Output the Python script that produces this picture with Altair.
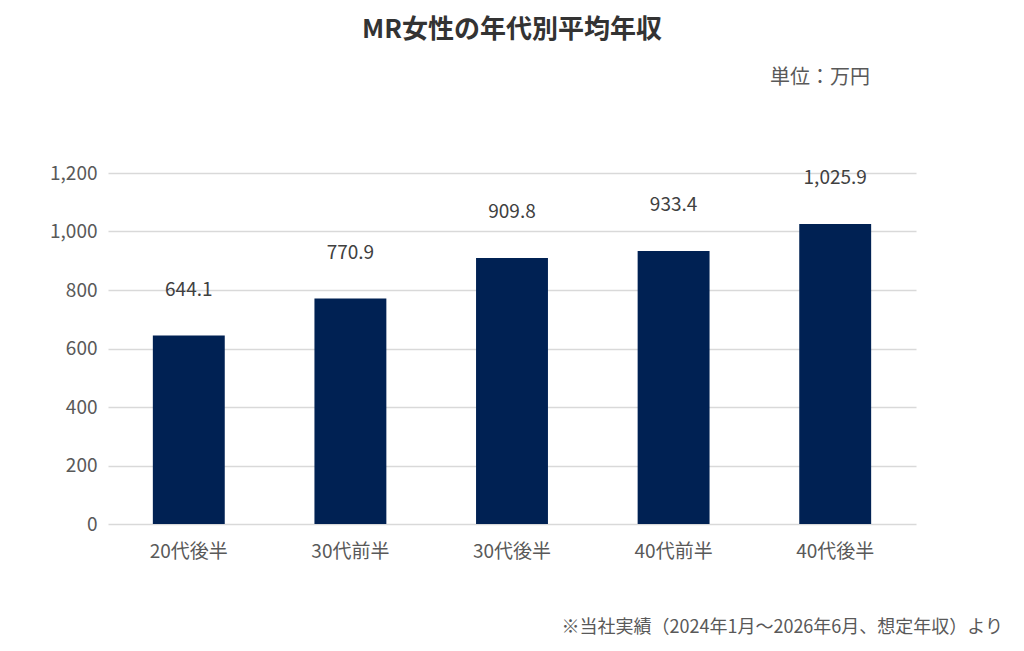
import altair as alt
import pandas as pd

categories = ["20代後半", "30代前半", "30代後半", "40代前半", "40代後半"]
values = [644.1, 770.9, 909.8, 933.4, 1025.9]
labels = ["644.1", "770.9", "909.8", "933.4", "1,025.9"]
y_ticks = [0, 200, 400, 600, 800, 1000, 1200]

df = pd.DataFrame({"cat": categories, "val": values, "lab": labels})
FONT = "Noto Sans CJK JP"

x = alt.X("cat:N", sort=categories, title=None,
          scale=alt.Scale(paddingInner=0.555, paddingOuter=0.2775),
          axis=alt.Axis(labelAngle=0, domain=False, ticks=False, labelPadding=18,
                        labelFontSize=19, labelColor="#595959", labelFont=FONT))
y = alt.Y("val:Q", title=None,
          scale=alt.Scale(domain=[0, 1200]),
          axis=alt.Axis(values=y_ticks, format=",.0f",
                        domain=False, ticks=False, labelPadding=11,
                        labelFontSize=19, labelColor="#595959", labelFont=FONT,
                        gridColor="#d9d9d9", gridWidth=1.5))

bars = alt.Chart(df).mark_bar(color="#002153").encode(x=x, y=y)
text = alt.Chart(df).mark_text(dy=-46, baseline="middle", fontSize=19,
                               color="#404040", font=FONT).encode(
    x=alt.X("cat:N", sort=categories), y="val:Q", text="lab:N")

unit = alt.Chart(pd.DataFrame({"t": ["単位：万円"]})).mark_text(
    align="right", baseline="middle", fontSize=20, color="#595959", font=FONT
).encode(x=alt.value(762), y=alt.value(-95), text="t:N")

note = alt.Chart(pd.DataFrame({"t": ["※当社実績（2024年1月～2026年6月、想定年収）より"]})).mark_text(
    align="right", baseline="middle", fontSize=18, color="#595959", font=FONT
).encode(x=alt.value(895), y=alt.value(455), text="t:N")

chart = alt.layer(bars, text, unit, note).properties(
    width=808, height=351,
    background="white",
    autosize=alt.AutoSizeParams(type="none"),
    padding={"left": 100, "top": 165, "right": 100, "bottom": 115},
    title=alt.TitleParams("MR女性の年代別平均年収", anchor="middle", fontSize=26,
                          fontWeight="bold", color="#333333", font=FONT,
                          offset=12, baseline="middle"),
).configure_view(stroke=None)

chart.save("out.html", embed_options={"renderer": "svg", "actions": False})
